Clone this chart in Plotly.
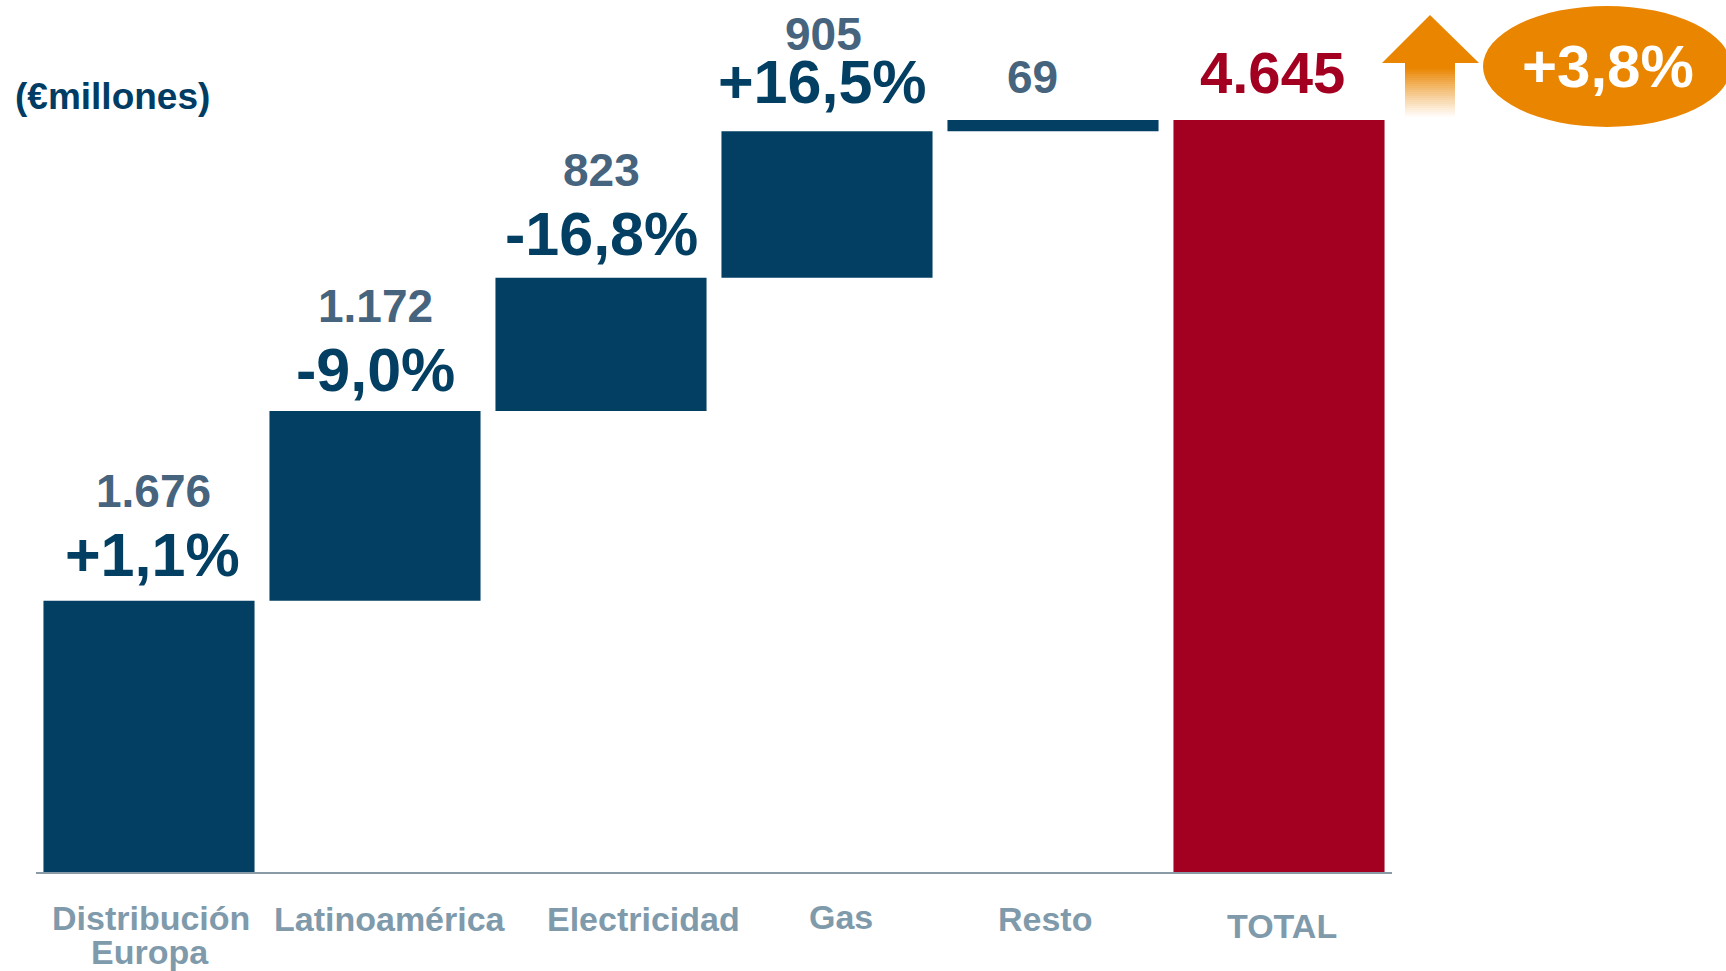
import plotly.graph_objects as go
import numpy as np

# ---------------- data ----------------
categories = ["Distribución Europa", "Latinoamérica", "Electricidad", "Gas", "Resto", "TOTAL"]
values = [1676, 1172, 823, 905, 69, 4645]
measures = ["relative", "relative", "relative", "relative", "relative", "total"]
value_labels = ["1.676", "1.172", "823", "905", "69", "4.645"]
pct_labels = ["+1,1%", "-9,0%", "-16,8%", "+16,5%", "", ""]
tick_lines = [["Distribución", "Europa"], ["Latinoamérica"], ["Electricidad"], ["Gas"], ["Resto"], ["TOTAL"]]
total_growth = "+3,8%"
unit_label = "(€millones)"

# ---------------- style ----------------
W, H = 1726, 971
L, R, T, B = 36, 1392, 0, 872          # plot area in pixels
NAVY = "#023F63"
RED = "#A30021"
SLATE = "#46647D"
CATC = "#7F9AAB"
ORANGE = "#EA8500"
FONT = "Liberation Sans, Arial, Helvetica, sans-serif"

def px(x):
    return (x - L) / (R - L)

def py(y):
    return (B - y) / (B - T)

fig = go.Figure()
fig.add_trace(go.Waterfall(
    x=categories,
    y=values,
    measure=measures,
    increasing=dict(marker=dict(color=NAVY)),
    decreasing=dict(marker=dict(color=NAVY)),
    totals=dict(marker=dict(color=RED)),
    connector=dict(visible=False),
    hoverinfo="skip",
))

# running tops of each bar (data units)
tops = list(np.cumsum(values[:5])) + [values[5]]

val_shift = [110, 105, 108, 97, 43, 47]
val_xshift = [4, 0, 0, -4, -21, -7]
val_size = [46, 46, 46, 46, 46, 58]
pct_shift = [46, 41, 44, 49, 0, 0]
pct_xshift = [3, 0, 0, -5, 0, 0]

annotations = []
for i, c in enumerate(categories):
    annotations.append(dict(
        x=c, y=tops[i], xref="x", yref="y", text=value_labels[i], showarrow=False,
        xanchor="center", yanchor="middle", yshift=val_shift[i], xshift=val_xshift[i],
        font=dict(family=FONT, size=val_size[i], color=RED if i == 5 else SLATE, weight="bold"),
    ))
    if pct_labels[i]:
        annotations.append(dict(
            x=c, y=tops[i], xref="x", yref="y", text=pct_labels[i], showarrow=False,
            xanchor="center", yanchor="middle", yshift=pct_shift[i], xshift=pct_xshift[i],
            font=dict(family=FONT, size=61, color=NAVY, weight="bold"),
        ))

# category labels
cat_xshift = [1.5, 15, 42.5, 14, -8, 3]
cat_yshift = [[-46, -79.5], [-47], [-47], [-45], [-47], [-53.5]]
for i, c in enumerate(categories):
    for j, line in enumerate(tick_lines[i]):
        annotations.append(dict(
            x=c, y=0, xref="x", yref="y", text=line, showarrow=False,
            xanchor="center", yanchor="middle", yshift=cat_yshift[i][j],
            xshift=cat_xshift[i] - (1 if j == 1 else 0),
            font=dict(family=FONT, size=34, color=CATC, weight="bold"),
        ))

# unit label
annotations.append(dict(
    x=px(13), y=py(96), xref="paper", yref="paper", text=unit_label, showarrow=False,
    xanchor="left", yanchor="middle",
    font=dict(family=FONT, size=37, color="#003C64", weight="bold"),
))
# growth bubble text
annotations.append(dict(
    x=px(1608), y=py(66), xref="paper", yref="paper", text=total_growth, showarrow=False,
    xanchor="center", yanchor="middle",
    font=dict(family=FONT, size=60, color="white", weight="bold"),
))

shapes = []
# ellipse
shapes.append(dict(type="circle", xref="paper", yref="paper",
                   x0=px(1483), x1=px(1731), y0=py(127), y1=py(6),
                   fillcolor=ORANGE, line=dict(width=0), layer="below"))
# arrow head
head = "M {},{} L {},{} L {},{} Z".format(px(1430), py(15), px(1382), py(63), px(1479), py(63))
shapes.append(dict(type="path", xref="paper", yref="paper", path=head,
                   fillcolor=ORANGE, line=dict(width=0)))
# arrow shaft with fading gradient
y_top, y_solid, y_bot = 63, 68, 118
shapes.append(dict(type="rect", xref="paper", yref="paper",
                   x0=px(1405), x1=px(1455), y0=py(y_solid), y1=py(y_top),
                   fillcolor=ORANGE, line=dict(width=0)))
nseg = 25
edges = np.linspace(y_solid, y_bot, nseg + 1)
for k in range(nseg):
    a = 1.0 - (k + 0.5) / nseg
    shapes.append(dict(type="rect", xref="paper", yref="paper",
                       x0=px(1405), x1=px(1455), y0=py(edges[k + 1]), y1=py(edges[k]),
                       fillcolor=ORANGE, opacity=float(max(a, 0.0) ** 1.1), line=dict(width=0)))

fig.update_layout(
    width=W, height=H,
    margin=dict(l=L, r=W - R, t=T, b=H - B, pad=0),
    paper_bgcolor="white", plot_bgcolor="white",
    showlegend=False,
    waterfallgap=0.066,
    xaxis=dict(range=[-0.5, 5.5], showline=True, linecolor="#8A9BA8", linewidth=2,
               showticklabels=False, ticks="", showgrid=False, zeroline=False, fixedrange=True),
    yaxis=dict(range=[0, 5386], visible=False, showgrid=False, zeroline=False, fixedrange=True),
    annotations=annotations,
    shapes=shapes,
)

fig.write_html("out.html", config={"displayModeBar": False},
               post_script="document.body.style.margin='0';")
